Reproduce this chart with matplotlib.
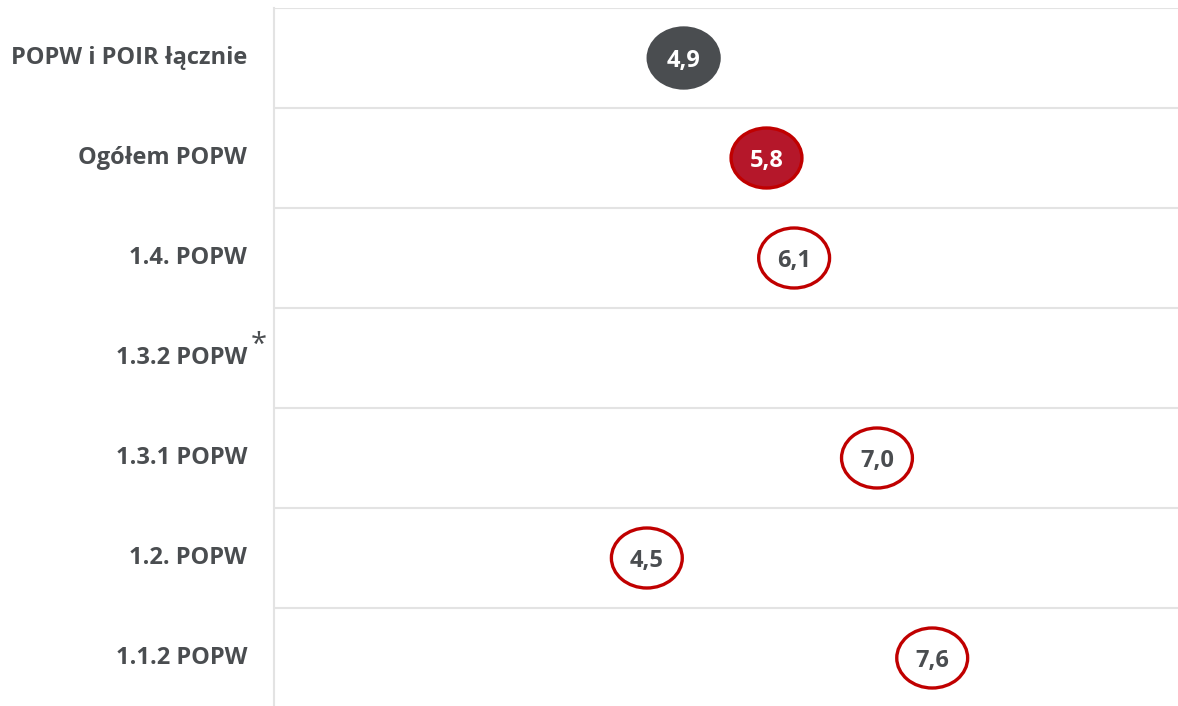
import matplotlib.pyplot as plt
from matplotlib.patches import Ellipse
import numpy as np

categories = ["POPW i POIR łącznie", "Ogółem POPW", "1.4. POPW", "1.3.2 POPW",
              "1.3.1 POPW", "1.2. POPW", "1.1.2 POPW"]
values = [4.9, 5.8, 6.1, np.nan, 7.0, 4.5, 7.6]
styles = ["dark", "filled", "ring", "ring", "ring", "ring", "ring"]
footnote = [False, False, False, True, False, False, False]

TXT = '#4A4D50'
RED = '#C00000'
plt.rcParams['font.family'] = ['Open Sans', 'DejaVu Sans']

fig = plt.figure(figsize=(11.78, 7.06), dpi=100)
ax = fig.add_axes([274 / 1178, 0, 1 - 274 / 1178, 698 / 706])
ax.set_xlim(0.45, 10.27)
ax.set_ylim(6.48, -0.5)

# row separators
for y in np.arange(-0.5, len(categories) - 0.5, 1.0):
    ax.axhline(y, color='#E3E3E3', lw=1.5, zorder=1)

for i, (v, s) in enumerate(zip(values, styles)):
    if np.isnan(v):
        continue
    if s == "dark":
        fc, ec, tc = '#4A4D50', '#4A4D50', 'white'
    elif s == "filled":
        fc, ec, tc = '#B5172A', RED, 'white'
    else:
        fc, ec, tc = 'white', RED, TXT
    ax.add_patch(Ellipse((v, i), 0.77, 0.6, facecolor=fc, edgecolor=ec,
                         lw=2.4, zorder=3))
    ax.text(v, i + 0.03, f"{v:.1f}".replace('.', ','), ha='center', va='center',
            color=tc, fontsize=17, fontweight='bold', zorder=4)

ax.set_yticks([])
ax.set_xticks([])
for sp in ['top', 'right', 'bottom']:
    ax.spines[sp].set_visible(False)
ax.spines['left'].set_color('#E3E3E3')
ax.spines['left'].set_linewidth(1.5)

for i, (c, f) in enumerate(zip(categories, footnote)):
    ax.annotate(c, (0, i), xycoords=('axes fraction', 'data'),
                xytext=(-27, 0), textcoords='offset pixels',
                ha='right', va='center', color=TXT, fontsize=17, fontweight='bold')
    if f:
        ax.annotate("*", (0, i - 0.13), xycoords=('axes fraction', 'data'),
                    xytext=(-15, 0), textcoords='offset pixels',
                    ha='center', va='center', color=TXT, fontsize=21)

fig.savefig("out.png", dpi=100)
